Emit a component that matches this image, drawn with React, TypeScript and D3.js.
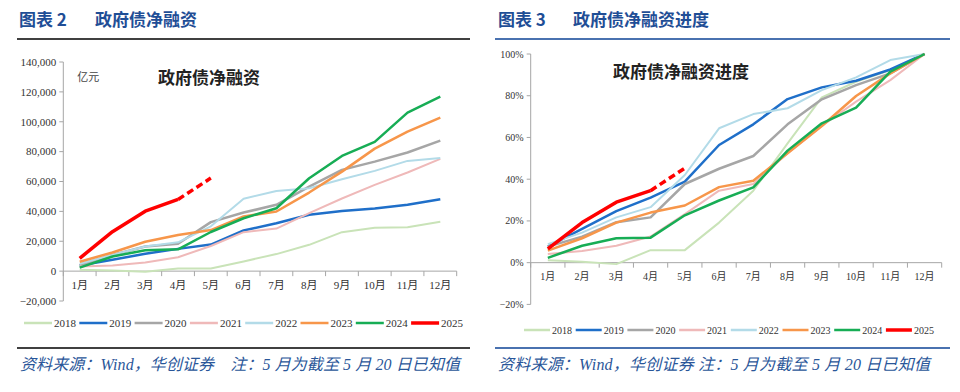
import { useEffect, useRef } from "react";
import * as d3 from "d3";

const months = ["1月", "2月", "3月", "4月", "5月", "6月", "7月", "8月", "9月", "10月", "11月", "12月"];
const years = ["2018", "2019", "2020", "2021", "2022", "2023", "2024", "2025"];
const colors = ["#c9e3b8", "#1f6fc9", "#a6a6a6", "#efb9b9", "#b3dbe8", "#f7964a", "#17ad55", "#ff0000"];
const widths = [2, 2.5, 2.5, 2, 2, 2.5, 2.5, 3.5];

// 政府债净融资 (亿元)
const amt2018 = [900, 400, -400, 1700, 1700, 6500, 11400, 17600, 26100, 29000, 29400, 33000];
const amt2019 = [3800, 7600, 11600, 14900, 17800, 27200, 32100, 37700, 40300, 41900, 44400, 48100];
const amt2020 = [3800, 10900, 16500, 18300, 32800, 39200, 44400, 56600, 67800, 73300, 79400, 87400];
const amt2021 = [3100, 3800, 5800, 9300, 16800, 26100, 28500, 38800, 48600, 57700, 66000, 75100];
const amt2022 = [4900, 10900, 16500, 19300, 30000, 48500, 53700, 55500, 61500, 67100, 73800, 75800];
const amt2023 = [6300, 12500, 19700, 24200, 27500, 36600, 39900, 52600, 66600, 82000, 93400, 102800];
const amt2024 = [2300, 9800, 14000, 14600, 26200, 35400, 42100, 62200, 77100, 86500, 106100, 116800];
const amt2025 = [8600, 26400, 40100, 48000, 62300];

// 政府债净融资进度
const pct2018 = [0.012, 0.004, -0.007, 0.06, 0.06, 0.192, 0.345, 0.572, 0.792, 0.867, 0.923, 1];
const pct2019 = [0.077, 0.162, 0.247, 0.312, 0.388, 0.564, 0.663, 0.784, 0.84, 0.872, 0.926, 1];
const pct2020 = [0.077, 0.125, 0.194, 0.217, 0.377, 0.45, 0.511, 0.663, 0.783, 0.851, 0.907, 1];
const pct2021 = [0.041, 0.056, 0.081, 0.125, 0.233, 0.345, 0.377, 0.524, 0.655, 0.772, 0.875, 1];
const pct2022 = [0.089, 0.144, 0.217, 0.266, 0.42, 0.644, 0.712, 0.74, 0.827, 0.888, 0.971, 1];
const pct2023 = [0.058, 0.117, 0.192, 0.24, 0.274, 0.362, 0.393, 0.524, 0.655, 0.799, 0.907, 1];
const pct2024 = [0.023, 0.081, 0.117, 0.12, 0.227, 0.298, 0.361, 0.537, 0.668, 0.743, 0.915, 1];
const pct2025 = [0.066, 0.192, 0.29, 0.345, 0.453];

const amtTicks = [-20000, 0, 20000, 40000, 60000, 80000, 100000, 120000, 140000];
const pctTicks = [-0.2, 0, 0.2, 0.4, 0.6, 0.8, 1];

const SERIF = "'Liberation Serif', 'Times New Roman', 'Noto Sans CJK SC', serif";
const BLUE_TEXT = "#2a5699";

type PanelOpts = {
  x0: number;
  x1: number;
  yTop: number;
  yBot: number;
  domain: [number, number];
  ticks: number[];
  fmt: (v: number) => string;
  tickFont: number;
  series: number[][];
  title: string;
  titleX: number;
  titleY: number;
  unit?: string;
  legendY: number;
  legendX: number;
  legendStep: number;
  legendLine: number;
  legendFont: number;
};

function drawPanel(g: d3.Selection<SVGGElement, unknown, null, undefined>, o: PanelOpts) {
  const x = d3.scaleBand<string>().domain(months).range([o.x0, o.x1]);
  const y = d3.scaleLinear().domain(o.domain).range([o.yBot, o.yTop]);
  const cx = (i: number) => (x(months[i]) as number) + x.bandwidth() / 2;
  const axisColor = "#a6a6a6";

  // y axis
  g.append("line")
    .attr("x1", o.x0).attr("x2", o.x0)
    .attr("y1", y(o.domain[0])).attr("y2", y(o.domain[1]))
    .attr("stroke", axisColor).attr("stroke-width", 1);
  o.ticks.forEach((t) => {
    g.append("line")
      .attr("x1", o.x0 - 4).attr("x2", o.x0)
      .attr("y1", y(t)).attr("y2", y(t))
      .attr("stroke", axisColor);
    g.append("text")
      .attr("x", o.x0 - 7).attr("y", y(t))
      .attr("dy", "0.35em")
      .attr("text-anchor", "end")
      .attr("font-size", o.tickFont)
      .attr("font-family", SERIF)
      .attr("fill", "#333")
      .text(o.fmt(t));
  });

  // x axis at zero
  const y0 = y(0);
  g.append("line")
    .attr("x1", o.x0).attr("x2", o.x1)
    .attr("y1", y0).attr("y2", y0)
    .attr("stroke", axisColor);
  d3.range(months.length + 1).forEach((i) => {
    const xx = i < months.length ? (x(months[i]) as number) : o.x1;
    g.append("line")
      .attr("x1", xx).attr("x2", xx)
      .attr("y1", y0).attr("y2", y0 + 5)
      .attr("stroke", axisColor);
  });
  months.forEach((m, i) => {
    g.append("text")
      .attr("x", cx(i)).attr("y", y0 + 14)
      .attr("dy", "0.35em")
      .attr("text-anchor", "middle")
      .attr("font-size", o.tickFont)
      .attr("font-family", SERIF)
      .attr("fill", "#333")
      .text(m);
  });

  // titles
  g.append("text")
    .attr("x", o.titleX).attr("y", o.titleY)
    .attr("dy", "0.35em")
    .attr("font-size", 17)
    .attr("font-weight", 700)
    .attr("font-family", "'Noto Sans CJK SC', sans-serif")
    .attr("fill", "#222")
    .text(o.title);
  if (o.unit) {
    g.append("text")
      .attr("x", o.x0 + 14).attr("y", o.titleY - 1)
      .attr("dy", "0.35em")
      .attr("font-size", 11)
      .attr("font-family", "'Noto Sans CJK SC', sans-serif")
      .attr("fill", "#444")
      .text(o.unit);
  }

  // lines
  const line = d3.line<number>().x((_, i) => cx(i)).y((v) => y(v));
  o.series.forEach((vals, k) => {
    if (k === o.series.length - 1) {
      g.append("path")
        .attr("d", line(vals.slice(0, 4)) as string)
        .attr("fill", "none").attr("stroke", colors[k])
        .attr("stroke-width", widths[k]).attr("stroke-linejoin", "round");
      const seg = d3.line<number>().x((_, i) => cx(i + 3)).y((v) => y(v));
      g.append("path")
        .attr("d", seg(vals.slice(3, 5)) as string)
        .attr("fill", "none").attr("stroke", colors[k])
        .attr("stroke-width", widths[k])
        .attr("stroke-dasharray", "7,4");
    } else {
      g.append("path")
        .attr("d", line(vals) as string)
        .attr("fill", "none").attr("stroke", colors[k])
        .attr("stroke-width", widths[k]).attr("stroke-linejoin", "round");
    }
  });

  // legend
  years.forEach((yr, k) => {
    const lx = o.legendX + k * o.legendStep;
    g.append("line")
      .attr("x1", lx).attr("x2", lx + o.legendLine)
      .attr("y1", o.legendY).attr("y2", o.legendY)
      .attr("stroke", colors[k]).attr("stroke-width", k === 7 ? 3.5 : 2.5);
    g.append("text")
      .attr("x", lx + o.legendLine + 2).attr("y", o.legendY)
      .attr("dy", "0.35em")
      .attr("font-size", o.legendFont)
      .attr("font-family", SERIF)
      .attr("fill", "#333")
      .text(yr);
  });
}

export default function App() {
  const ref = useRef<SVGSVGElement>(null);

  useEffect(() => {
    if (!ref.current) return;
    const svg = d3.select(ref.current);
    svg.selectAll("*").remove();

    const headers = [
      { x: 19, num: "图表 2", title: "政府债净融资", tx: 95, rule: "#404040", r0: 17, r1: 470 },
      { x: 498, num: "图表 3", title: "政府债净融资进度", tx: 573, rule: "#4a72b0", r0: 495, r1: 950 },
    ];
    headers.forEach((h) => {
      const t = svg.append("text")
        .attr("y", 20).attr("dy", "0.35em")
        .attr("font-size", 17).attr("font-weight", 700)
        .attr("font-family", "'Noto Sans CJK SC', sans-serif")
        .attr("fill", "#1f4e96");
      t.append("tspan").attr("x", h.x).text(h.num);
      t.append("tspan").attr("x", h.tx).text(h.title);
      svg.append("line")
        .attr("x1", h.r0).attr("x2", h.r1).attr("y1", 39).attr("y2", 39)
        .attr("stroke", h.rule).attr("stroke-width", 2);
      svg.append("line")
        .attr("x1", h.r0).attr("x2", h.r1).attr("y1", 348).attr("y2", 348)
        .attr("stroke", h.rule).attr("stroke-width", 2);
      svg.append("text")
        .attr("x", h.r0 + 3).attr("y", 364).attr("dy", "0.35em")
        .attr("font-size", 16).attr("font-style", "italic")
        .attr("font-family", SERIF)
        .attr("fill", BLUE_TEXT)
        .attr("textLength", h.r0 < 100 ? 440 : 432)
        .attr("lengthAdjust", "spacing")
        .text(h.r0 < 100 ? "资料来源：Wind，华创证券　注：5 月为截至 5 月 20 日已知值" : "资料来源：Wind，华创证券 注：5 月为截至 5 月 20 日已知值");
    });

    drawPanel(svg.append("g"), {
      x0: 63.3, x1: 456.7, yTop: 62, yBot: 301,
      domain: [-20000, 140000], ticks: amtTicks,
      fmt: d3.format(","), tickFont: 11,
      series: [amt2018, amt2019, amt2020, amt2021, amt2022, amt2023, amt2024, amt2025],
      title: "政府债净融资", titleX: 158, titleY: 78, unit: "亿元",
      legendY: 323, legendX: 24, legendStep: 55.3, legendLine: 28, legendFont: 11,
    });
    drawPanel(svg.append("g"), {
      x0: 530.7, x1: 941.7, yTop: 54, yBot: 304.4,
      domain: [-0.2, 1], ticks: pctTicks,
      fmt: d3.format(".0%"), tickFont: 10,
      series: [pct2018, pct2019, pct2020, pct2021, pct2022, pct2023, pct2024, pct2025],
      title: "政府债净融资进度", titleX: 613, titleY: 72,
      legendY: 330, legendX: 524, legendStep: 51.7, legendLine: 26, legendFont: 10,
    });
  }, []);

  return (
    <svg
      ref={ref}
      width={960}
      height={392}
      style={{ position: "absolute", left: 0, top: 0, background: "#fff" }}
    />
  );
}
